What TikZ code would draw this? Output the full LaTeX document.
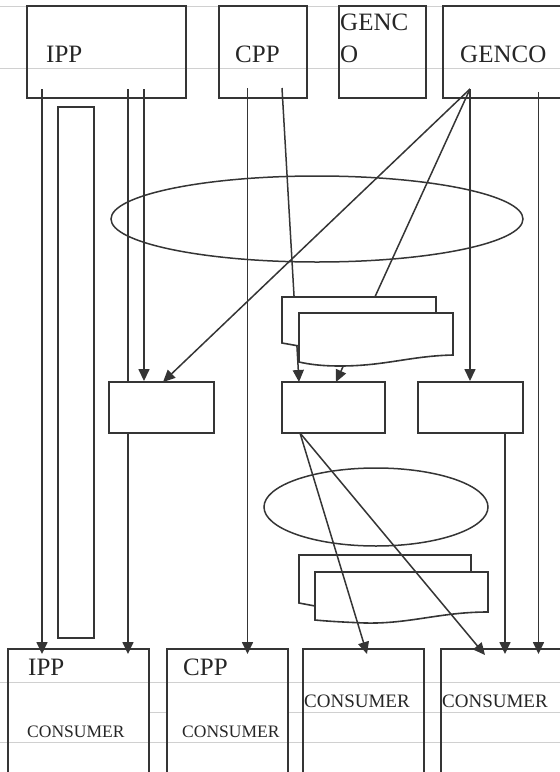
\documentclass[tikz,border=0pt]{standalone}
\usepackage{fontspec}
\setmainfont{Liberation Serif}
\usetikzlibrary{arrows.meta,shapes.geometric}
\definecolor{ink}{HTML}{353535}
\definecolor{rulegray}{HTML}{D0D0D0}
\definecolor{txt}{HTML}{262626}
\tikzset{
  frame/.style={draw=ink, line width=1.9pt, rectangle, inner sep=0pt},
  solidbox/.style={frame, fill=white},
  link/.style={draw=ink, line width=1.5pt},
  arr/.style={link, -{Triangle[length=12pt,width=11pt]}},
  oval/.style={draw=ink, line width=1.5pt, ellipse, inner sep=0pt},
  gridline/.style={draw=rulegray, line width=0.9pt},
  doc/.style={draw=ink, line width=1.6pt, line join=miter},
  bigtext/.style={font=\fontsize{25}{30}\selectfont, text=txt, inner sep=0pt, anchor=base west},
  smalltext/.style={font=\fontsize{17.5}{21}\selectfont, text=txt, inner sep=0pt, anchor=base west},
  midtext/.style={font=\fontsize{19}{23}\selectfont, text=txt, inner sep=0pt, anchor=base west}
}
\begin{document}
\begin{tikzpicture}[x=1pt,y=-1pt]
\useasboundingbox (0,0) rectangle (560,772);
\clip (0,0) rectangle (560,772);

% faint table rules
\draw[gridline] (0,6) -- (560,6);
\draw[gridline] (0,68) -- (560,68);
\draw[gridline] (0,682) -- (560,682);
\draw[gridline] (149,712) -- (167,712);
\draw[gridline] (288,712) -- (560,712);
\draw[gridline] (0,742) -- (560,742);

% producers along the top
\node[frame, minimum width=159pt, minimum height=92pt] (ipp)   at (106.5,52) {};
\node[frame, minimum width=88pt,  minimum height=92pt] (cpp)   at (263,52)   {};
\node[frame, minimum width=87pt,  minimum height=92pt] (genc)  at (382.5,52) {};
\node[frame, minimum width=137pt, minimum height=92pt] (genco) at (511.5,52) {};

% consumers along the bottom
\node[frame, minimum width=141pt, minimum height=140pt] (cons1) at (78.5,719)  {};
\node[frame, minimum width=121pt, minimum height=140pt] (cons2) at (227.5,719) {};
\node[frame, minimum width=121pt, minimum height=140pt] (cons3) at (363.5,719) {};
\node[frame, minimum width=139pt, minimum height=140pt] (cons4) at (510.5,719) {};

% tall bar on the left
\node[frame, minimum width=36pt, minimum height=531pt] (bar) at (76,372.5) {};

% ellipses
\node[oval, minimum width=412pt, minimum height=86pt] (bigoval) at (317,219) {};
\node[oval, minimum width=224pt, minimum height=78pt] (smalloval) at (376,507) {};

% lower stacked documents (open outline)
\draw[doc] (315,606) -- (299,603) -- (299,555) -- (471,555) -- (471,572);
\draw[doc] (315,572) -- (488,572) -- (488,612)
  .. controls (440,612) and (410,624) .. (365,623)
  .. controls (340,622) and (325,621) .. (315,620) -- cycle;

% connector end points
\coordinate (ippA) at (42,89);
\coordinate (ippB) at (128,89);
\coordinate (ippC) at (144,89);
\coordinate (cppA) at (247.5,88);
\coordinate (cppB) at (282,88);
\coordinate (apex) at (470,89);
\coordinate (gencoB) at (538.5,92);
\coordinate (midLin) at (163,382);
\coordinate (midCinA) at (299,382);
\coordinate (midCinB) at (336,382);
\coordinate (midCout) at (300,433);
\coordinate (midRout) at (505,433);
\coordinate (cons3in) at (367,654);
\coordinate (cons4in) at (485,655);

% this line runs behind the left middle box
\draw[arr, shorten >=-6pt] (ippB) -- (ippB |- cons1.north);

% middle boxes
\node[solidbox, minimum width=105pt, minimum height=51pt] (midL) at (161.5,407.5) {};
\node[solidbox, minimum width=103pt, minimum height=51pt] (midC) at (333.5,407.5) {};
\node[solidbox, minimum width=105pt, minimum height=51pt] (midR) at (470.5,407.5) {};

% connectors
\draw[arr, shorten >=-6pt] (ippA) -- (ippA |- cons1.north);
\draw[arr] (ippC) -- (ippC |- midL.north);
\draw[arr] (apex) -- (midLin);
\draw[arr] (apex) -- (midCinB);
\draw[arr] (apex) -- (apex |- midR.north);
\draw[arr, shorten >=-6pt] (gencoB) -- (gencoB |- cons4.north);
\draw[arr, shorten >=-6pt] (cppA) -- (cppA |- cons2.north);
\draw[arr] (cppB) -- (midCinA);
\draw[arr, shorten >=-6pt] (midRout) -- (midRout |- cons4.north);
\draw[arr] (midCout) -- (cons3in);
\draw[arr] (midCout) -- (cons4in);

% upper stacked documents (solid, covering the lines behind)
\draw[doc, fill=white] (282,297) -- (436,297) -- (436,313) -- (299,313) -- (299,346) -- (282,343) -- cycle;
\draw[doc, fill=white] (299,313) -- (453,313) -- (453,355)
  .. controls (410,356) and (385,366) .. (340,366)
  .. controls (320,366) and (308,364) .. (299,362) -- cycle;

% labels
\node[bigtext] (tIpp)   at (46,62)  {IPP};
\node[bigtext] (tCpp)   at (235,62) {CPP};
\node[bigtext] (tGenc)  at (340,30) {GENC};
\node[bigtext] (tGencO) at (340,62) {O};
\node[bigtext] (tGenco) at (460,62) {GENCO};

\node[bigtext] (tIpp2) at (28,675)  {IPP};
\node[bigtext] (tCpp2) at (183,675) {CPP};
\node[smalltext] (tCons1) at (27,737)  {CONSUMER};
\node[smalltext] (tCons2) at (182,737) {CONSUMER};
\node[midtext] (tCons3) at (304,707) {CONSUMER};
\node[midtext] (tCons4) at (442,707) {CONSUMER};
\end{tikzpicture}
\end{document}
